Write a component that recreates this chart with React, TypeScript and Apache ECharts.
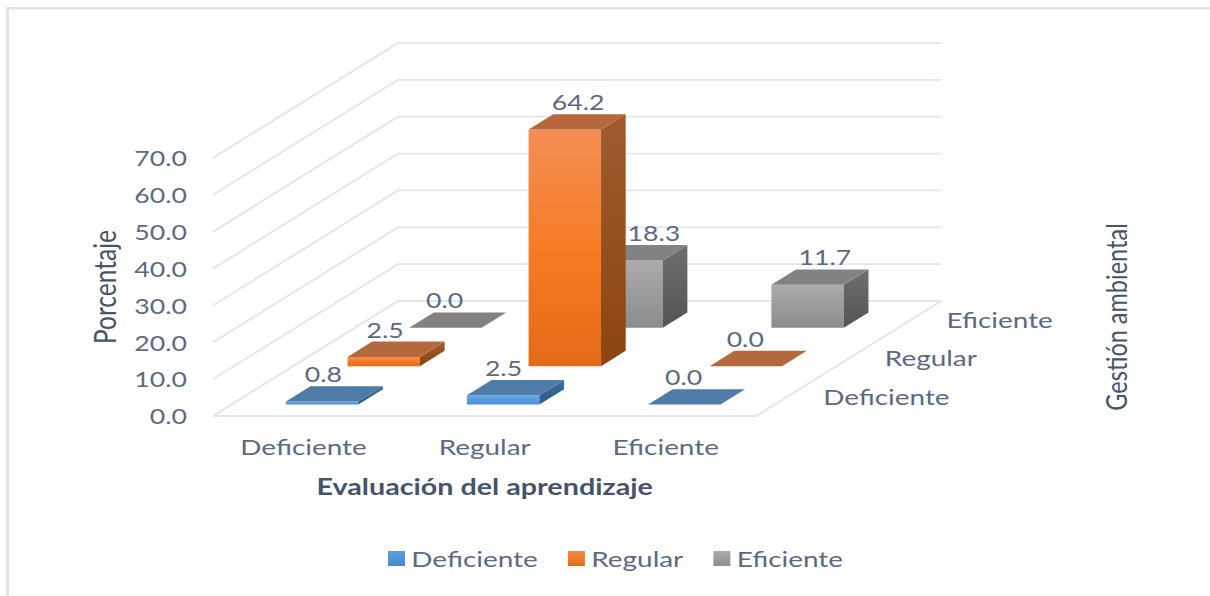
import React, { useEffect, useRef } from "react";
import * as echarts from "echarts";

const categories = ["Deficiente", "Regular", "Eficiente"];
const depthCategories = ["Deficiente", "Regular", "Eficiente"];
const yTicks = [0, 10, 20, 30, 40, 50, 60, 70];
const deficiente = [0.8, 2.5, 0.0];
const regular = [2.5, 64.2, 0.0];
const eficiente = [0.0, 18.3, 11.7];

// The reference picture is a chart stretched sideways, so the canvas is drawn narrower and widened by CSS.
const STRETCH = 1.27;
const sx = (x: number) => x / STRETCH;

const GRID = { left: sx(213), right: sx(454), top: 158, bottom: 180 };
const DEPTH_X = sx(185);
const DEPTH_Y = -115;
const TEXT = "#5B6A82";
const TITLE = "#44546A";
const FONT = "Lato";
const TICK_SIZE = 21;
const SIZE = 22;
const GRIDLINE = "#E2E6EE";
const grad = (a: string, b: string, m?: string) =>
  new echarts.graphic.LinearGradient(0, 0, 0, 1,
    m ? [{ offset: 0, color: a }, { offset: 0.5, color: m }, { offset: 1, color: b }]
      : [{ offset: 0, color: a }, { offset: 1, color: b }]);

const PALETTE = [
  { front: () => grad("#62A6E2", "#4A90D8"), top: "#4F7BA8", side: () => grad("#3A6C9C", "#2C5A88"), legend: () => grad("#5BA0DE", "#4488CC") },
  { front: () => grad("#F48E55", "#E36A16", "#F67B26"), top: "#B5683C", side: () => grad("#A05C30", "#8C4410"), legend: () => grad("#F68A45", "#E56B18") },
  { front: () => grad("#ABABAB", "#8C8C8C"), top: "#828282", side: () => grad("#6F6F6F", "#545454"), legend: () => grad("#ABABAB", "#8F8F8F") },
];

// Excel nudges some data labels; [series][category] horizontal shift from the top face centre.
const LABEL_SHIFT = [
  [-11, -12, -13],
  [-11, 1, -13],
  [-13, 15, 5],
];

function barSeries(name: string, values: number[], row: number) {
  return {
    name,
    type: "custom",
    z: 10 - row,
    itemStyle: { color: PALETTE[row].legend() },
    encode: { x: 0, y: 1 },
    data: values.map((v, i) => [i, v]),
    renderItem: (_p: any, api: any) => {
      const cat = api.value(0);
      const val = api.value(1);
      const [cx, y0] = api.coord([cat, 0]);
      const [, yv] = api.coord([cat, val]);
      const w = api.size([1, 0])[0];
      const f = (row + 0.3) / 3;
      const d = 0.4 / 3;
      const ox = DEPTH_X * f, oy = DEPTH_Y * f;
      const bx = DEPTH_X * d, by = DEPTH_Y * d;
      const x1 = cx - w * 0.2 + ox, x2 = cx + w * 0.2 + ox;
      const yb = y0 + oy, yt = yv + oy;
      const p = PALETTE[row];
      const poly = (points: number[][], fill: any) => ({ type: "polygon", shape: { points }, style: { fill } });
      const children: any[] = [];
      if (val > 0) {
        children.push(poly([[x1, yb], [x2, yb], [x2, yt], [x1, yt]], p.front()));
        children.push(poly([[x2, yb], [x2 + bx, yb + by], [x2 + bx, yt + by], [x2, yt]], p.side()));
      }
      children.push(poly([[x1, yt], [x2, yt], [x2 + bx, yt + by], [x1 + bx, yt + by]], p.top));
      children.push({
        type: "text",
        x: (x1 + x2 + bx) / 2 + sx(LABEL_SHIFT[row][cat]),
        y: yt + by / 2 - 20,
        style: { text: val.toFixed(1), fill: TEXT, font: `${TICK_SIZE}px "${FONT}"`, align: "center", verticalAlign: "middle" },
      });
      return { type: "group", children };
    },
  };
}

const wallSeries = {
  type: "custom",
  silent: true,
  z: 1,
  data: yTicks.map((t) => [0, t]),
  encode: { x: 0, y: 1 },
  renderItem: (_p: any, api: any) => {
    const v = api.value(1);
    const w = api.size([1, 0])[0];
    const left = api.coord([0, v])[0] - w / 2;
    const right = api.coord([2, v])[0] + w / 2;
    const y = api.coord([0, v])[1];
    const style = { stroke: GRIDLINE, lineWidth: 1.8, fill: "none" };
    const children: any[] = [{
      type: "polyline",
      shape: { points: [[left, y], [left + DEPTH_X, y + DEPTH_Y], [right + DEPTH_X, y + DEPTH_Y]] },
      style,
    }];
    if (v === 0) {
      children.push({
        type: "polyline",
        shape: { points: [[left, y], [right, y], [right + DEPTH_X, y + DEPTH_Y]] },
        style,
      });
    }
    return { type: "group", children };
  },
};

const depthLabelSeries = {
  type: "custom",
  silent: true,
  z: 2,
  data: depthCategories.map((_, i) => [2, i]),
  encode: { x: 0 },
  renderItem: (_p: any, api: any) => {
    const row = api.value(1);
    const w = api.size([1, 0])[0];
    const [cx, y0] = api.coord([2, 0]);
    const f = (row + 0.5) / 3;
    return {
      type: "text",
      x: cx + w / 2 + DEPTH_X * f + sx(36),
      y: y0 + DEPTH_Y * f - 1,
      style: { text: depthCategories[row], fill: TEXT, font: `${SIZE}px "${FONT}"`, align: "left", verticalAlign: "middle" },
    };
  },
};

export default function App() {
  const ref = useRef<HTMLDivElement>(null);
  useEffect(() => {
    const chart = echarts.init(ref.current!, null, { renderer: "svg" });
    chart.setOption({
      animation: false,
      backgroundColor: "#FFFFFF",
      grid: GRID,
      xAxis: {
        type: "category",
        data: categories,
        axisLine: { show: false },
        axisTick: { show: false },
        axisLabel: { color: TEXT, fontFamily: FONT, fontSize: SIZE, margin: 19 },
        name: "Evaluación del aprendizaje",
        nameLocation: "middle",
        nameGap: 59,
        nameTextStyle: { color: TITLE, fontFamily: FONT, fontWeight: "bold", fontSize: 22.6 },
      },
      yAxis: {
        type: "value",
        min: 0,
        max: 70,
        interval: 10,
        axisLine: { show: false },
        axisTick: { show: false },
        splitLine: { show: false },
        axisLabel: { color: TEXT, fontFamily: FONT, fontSize: TICK_SIZE, margin: sx(26), formatter: (v: number) => v.toFixed(1) },
        name: "Porcentaje",
        nameLocation: "middle",
        nameRotate: 90,
        nameGap: sx(93),
        nameTextStyle: { color: TITLE, fontFamily: FONT, fontSize: 24.5 },
      },
      legend: {
        left: sx(388),
        top: 547.5,
        padding: 0,
        itemWidth: sx(17),
        itemHeight: 15,
        itemGap: sx(30),
        icon: "rect",
        data: ["Deficiente", "Regular", "Eficiente"],
        textStyle: { color: TEXT, fontFamily: FONT, fontSize: SIZE },
      },
      graphic: [
        { type: "rect", shape: { x: sx(6), y: 7, width: sx(1204), height: 2.5 }, style: { fill: "#DFE4EC" } },
        { type: "rect", shape: { x: sx(6), y: 7, width: sx(3), height: 589 }, style: { fill: "#DFE4EC" } },
        {
          type: "text",
          x: sx(1115),
          y: 317,
          rotation: Math.PI / 2,
          style: { text: "Gestión ambiental", fill: TITLE, font: `23.5px "${FONT}"`, align: "center", verticalAlign: "middle" },
        },
      ],
      series: [
        wallSeries,
        depthLabelSeries,
        barSeries("Deficiente", deficiente, 0),
        barSeries("Regular", regular, 1),
        barSeries("Eficiente", eficiente, 2),
      ],
    });
    return () => chart.dispose();
  }, []);
  return (
    <div
      ref={ref}
      style={{
        position: "absolute",
        left: 0,
        top: 0,
        width: sx(1210),
        height: 596,
        transform: `scaleX(${STRETCH})`,
        transformOrigin: "left top",
      }}
    />
  );
}
